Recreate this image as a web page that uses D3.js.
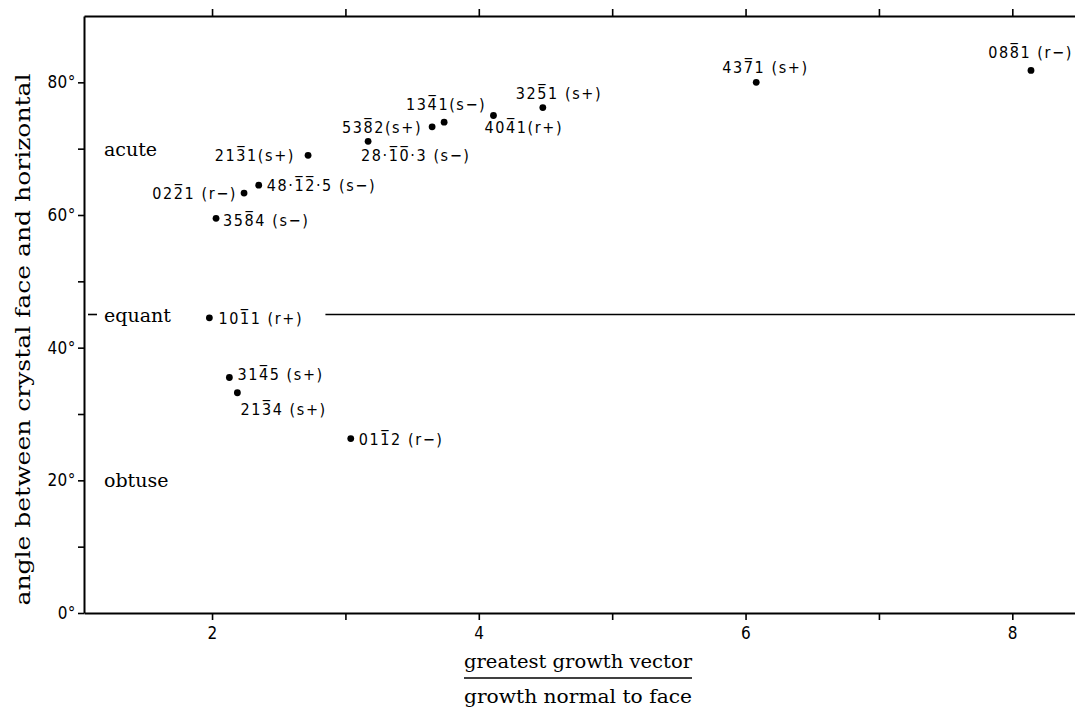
<!DOCTYPE html>
<html>
<head>
<meta charset="utf-8">
<script src="https://cdn.jsdelivr.net/npm/d3@7"></script>
<style>
  body { margin: 0; background: #fff; }
  svg { display: block; }
</style>
</head>
<body>
<figure id="chart" style="margin:0"></figure>
<script>
// faces (Miller-Bravais index, form), growth ratio and angle
const faces = ["088\u03051 (r\u2212)", "437\u03051 (s+)", "325\u03051 (s+)", "134\u03051(s\u2212)",
  "404\u03051(r+)", "538\u03052(s+)", "28\u00b71\u03050\u0305\u00b73 (s\u2212)", "213\u03051(s+)",
  "48\u00b71\u03052\u0305\u00b75 (s\u2212)", "022\u03051 (r\u2212)", "358\u03054 (s\u2212)",
  "101\u03051 (r+)", "314\u03055 (s+)", "213\u03054 (s+)", "011\u03052 (r\u2212)"];
const ratio = [8.14, 6.08, 4.48, 3.74, 4.11, 3.65, 3.17, 2.72, 2.35, 2.24, 2.03, 1.98, 2.13, 2.19, 3.04];
const angle = [81.8, 80.0, 76.2, 74.0, 75.0, 73.3, 71.1, 69.0, 64.5, 63.3, 59.5, 44.5, 35.5, 33.2, 26.3];

const xTicks = [2, 3, 4, 5, 6, 7, 8];
const xTickLabels = [2, 4, 6, 8];
const yTicks = [0, 10, 20, 30, 40, 50, 60, 70, 80];
const yTickLabels = [0, 20, 40, 60, 80];
const zones = ["acute", "equant", "obtuse"];
const zoneAngle = [70, 45, 20];
const equant = 45;

// label placement around each dot: [dx, dy, anchor]
const labelPos = [[42, -12, "end"], [-34, -9, "start"], [-27, -9, "start"], [-38, -12, "start"],
  [-9, 17, "start"], [-10, 6, "end"], [-7, 20, "start"], [-13, 6, "end"], [8, 6, "start"],
  [-7, 6, "end"], [7, 8, "start"], [9, 6, "start"], [8, 2, "start"], [3, 22, "start"], [8, 6, "start"]];

const width = 1075, height = 710;
const mLeft = 84, mRight = 1075, mTop = 16, mBottom = 613;

const svg = d3.select("figure#chart").append("svg")
  .attr("width", width).attr("height", height);

const x = d3.scaleLinear().domain([1.04, 8.47]).range([mLeft, mRight]);
const y = d3.scaleLinear().domain([0, 90]).range([mBottom, mTop]);

const sans = "'DejaVu Sans Condensed', 'DejaVu Sans', sans-serif";
const serif = "'DejaVu Serif', 'Liberation Serif', serif";

// axes
const gx = svg.append("g").attr("transform", "translate(0," + mBottom + ")")
  .call(d3.axisBottom(x).tickValues(xTicks).tickSize(7).tickSizeOuter(0).tickPadding(7)
    .tickFormat(d => xTickLabels.includes(d) ? d : ""));
const gt = svg.append("g").attr("transform", "translate(0," + mTop + ")")
  .call(d3.axisTop(x).tickValues(xTicks).tickSize(7).tickSizeOuter(0).tickFormat(""));
const gy = svg.append("g").attr("transform", "translate(" + mLeft + ",0)")
  .call(d3.axisLeft(y).tickValues(yTicks).tickSize(6).tickSizeOuter(0).tickPadding(2)
    .tickFormat(d => yTickLabels.includes(d) ? d + "\u00b0" : ""));

[gx, gt, gy].forEach(g => {
  g.select(".domain").attr("stroke", "#000").attr("stroke-width", 2);
  g.selectAll(".tick line").attr("stroke", "#000").attr("stroke-width", 1.6);
  g.selectAll(".tick text").attr("fill", "#000").style("font-family", sans)
    .style("font-size", "17px").style("letter-spacing", "0.5px");
});

// equant reference line and small inner tick
svg.append("line")
  .attr("x1", x(2.85)).attr("x2", mRight)
  .attr("y1", y(equant)).attr("y2", y(equant))
  .attr("stroke", "#000").attr("stroke-width", 1.6);
svg.append("line")
  .attr("x1", mLeft + 4).attr("x2", mLeft + 13)
  .attr("y1", y(equant)).attr("y2", y(equant))
  .attr("stroke", "#000").attr("stroke-width", 1.6);

// zone names
svg.append("g").selectAll("text").data(zones).enter().append("text")
  .attr("x", mLeft + 20)
  .attr("y", (d, i) => y(zoneAngle[i]))
  .attr("dominant-baseline", "central")
  .style("font-family", serif).style("font-size", "19px")
  .text(d => d);

// points
svg.append("g").selectAll("circle").data(ratio).enter().append("circle")
  .attr("cx", d => x(d))
  .attr("cy", (d, i) => y(angle[i]))
  .attr("r", 3.4)
  .attr("fill", "#000");

svg.append("g").selectAll("text").data(faces).enter().append("text")
  .attr("x", (d, i) => x(ratio[i]) + labelPos[i][0])
  .attr("y", (d, i) => y(angle[i]) + labelPos[i][1])
  .attr("text-anchor", (d, i) => labelPos[i][2])
  .style("font-family", sans).style("font-size", "16px")
  .style("letter-spacing", "1.6px")
  .text(d => d);

// axis titles
svg.append("text")
  .attr("transform", "translate(23," + ((mTop + mBottom) / 2 + 25) + ") rotate(-90)")
  .attr("text-anchor", "middle")
  .attr("dominant-baseline", "central")
  .attr("textLength", 532).attr("lengthAdjust", "spacingAndGlyphs")
  .style("font-family", serif).style("font-size", "20px")
  .text("angle between crystal face and horizontal");

const cx = 578;
svg.append("text").attr("x", cx).attr("y", 668).attr("text-anchor", "middle")
  .attr("textLength", 228).attr("lengthAdjust", "spacingAndGlyphs")
  .style("font-family", serif).style("font-size", "19px")
  .text("greatest growth vector");
svg.append("line").attr("x1", cx - 114).attr("x2", cx + 114).attr("y1", 678).attr("y2", 678)
  .attr("stroke", "#000").attr("stroke-width", 1.6);
svg.append("text").attr("x", cx).attr("y", 703).attr("text-anchor", "middle")
  .attr("textLength", 228).attr("lengthAdjust", "spacingAndGlyphs")
  .style("font-family", serif).style("font-size", "19px")
  .text("growth normal to face");
</script>
</body>
</html>
